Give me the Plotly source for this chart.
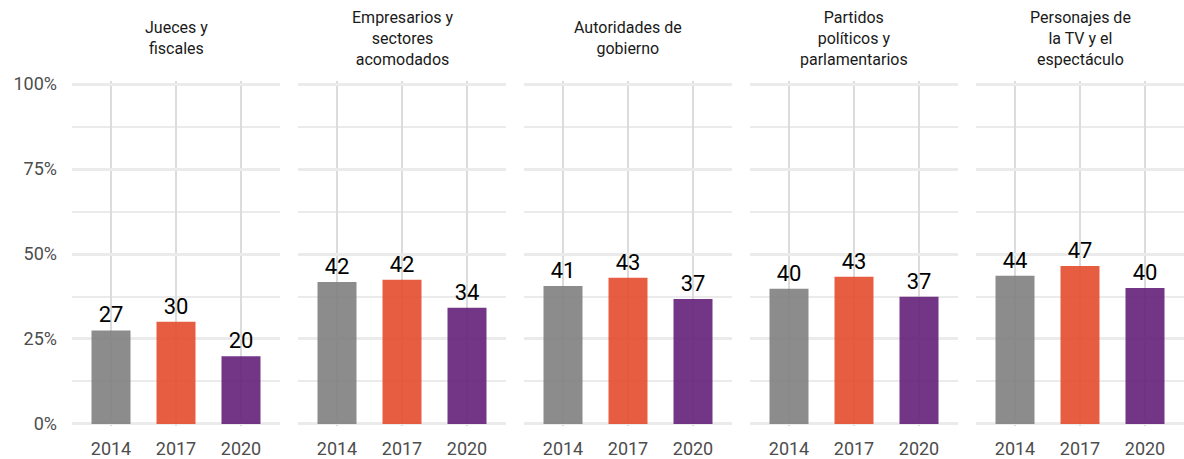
import plotly.graph_objects as go

groups = ["Jueces y<br>fiscales",
          "Empresarios y<br>sectores<br>acomodados",
          "Autoridades de<br>gobierno",
          "Partidos<br>políticos y<br>parlamentarios",
          "Personajes de<br>la TV y el<br>espectáculo"]
years = ["2014", "2017", "2020"]
values = [[27.5, 30.1, 19.9],
          [41.8, 42.4, 34.2],
          [40.6, 43.0, 36.8],
          [39.8, 43.3, 37.4],
          [43.6, 46.5, 40.0]]
labels = [["27", "30", "20"],
          ["42", "42", "34"],
          ["41", "43", "37"],
          ["40", "43", "37"],
          ["44", "47", "40"]]
colors = ["#808080", "#e34b2e", "#64207a"]

W, H = 1184, 459
FONT = "Roboto"
TOP = 81  # pixel top of panels
fig = go.Figure()

for i, grp in enumerate(groups):
    n = "" if i == 0 else str(i + 1)
    fig.add_trace(go.Bar(
        x=years, y=values[i], text=labels[i], textposition="outside",
        marker=dict(color=colors, opacity=0.9, line=dict(width=0)),
        width=0.6, cliponaxis=False, showlegend=False,
        textfont=dict(size=22, color="#000000", family=FONT),
        xaxis="x" + n, yaxis="y" + n, hoverinfo="skip"))

    x0 = (72 + 226 * i) / W
    x1 = min((72 + 226 * i + 208) / W, 1.0)
    fig.layout["xaxis" + n] = dict(
        domain=[x0, x1], anchor="y" + n, type="category",
        range=[-0.6, 2.6], showgrid=True, gridcolor="#dcdcdc", gridwidth=2,
        zeroline=False, showline=False, ticks="",
        tickfont=dict(size=18, color="#4d4d4d", family=FONT),
        ticklabelstandoff=10, fixedrange=True)
    fig.layout["yaxis" + n] = dict(
        anchor="x" + n, range=[-0.6, 100.9], tickvals=[0, 25, 50, 75, 100],
        ticktext=["0%", "25%", "50%", "75%", "100%"],
        showticklabels=(i == 0), showgrid=True, gridcolor="#ebebeb", gridwidth=3,
        minor=dict(tickvals=[12.5, 37.5, 62.5, 87.5], showgrid=True,
                   gridcolor="#ebebeb", gridwidth=2),
        zeroline=False, showline=False, ticks="",
        tickfont=dict(size=18, color="#4d4d4d", family=FONT),
        ticklabelstandoff=14, fixedrange=True)

    fig.add_annotation(text=grp, x=(x0 + x1) / 2, xref="paper", y=1.0,
                       yref="paper", yshift=TOP - 38, xanchor="center",
                       yanchor="middle", showarrow=False, align="center",
                       font=dict(size=16, color="#1a1a1a", family=FONT))

fig.update_layout(
    width=W, height=H, margin=dict(l=0, r=0, t=TOP, b=30),
    paper_bgcolor="white", plot_bgcolor="white",
    font=dict(family=FONT))

fig.write_html("out.html", config={"displayModeBar": False},
               post_script="document.body.style.margin='0';")
